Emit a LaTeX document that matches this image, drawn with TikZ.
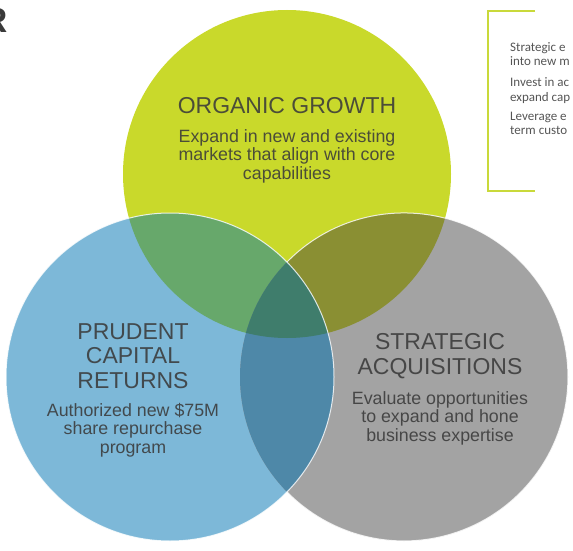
\documentclass[tikz,border=0pt]{standalone}
\usepackage{fontspec}
\setmainfont{Liberation Sans}
\newfontfamily\sidefont{Carlito}
\definecolor{ctop}{HTML}{C9D92B}
\definecolor{cleft}{HTML}{7DB8D8}
\definecolor{cright}{HTML}{A3A3A3}
\definecolor{ctl}{HTML}{67A86B}
\definecolor{ctr}{HTML}{8A8F33}
\definecolor{clr}{HTML}{4E88A8}
\definecolor{cmid}{HTML}{3F7D6C}
\definecolor{ctext}{HTML}{3A3A3A}
\definecolor{cside}{HTML}{555555}
\definecolor{cbrack}{HTML}{C9D93A}
\tikzset{
  titletext/.style={align=center, text=ctext, text opacity=0.88, inner sep=0pt,
    font=\fontsize{23}{24.5}\selectfont},
  bodytext/.style={align=center, text=ctext, text opacity=0.88, inner sep=0pt,
    font=\fontsize{17.8}{18.5}\selectfont},
  sidetext/.style={anchor=base west, inner sep=0pt, text=cside,
    font=\sidefont\fontsize{13}{14}\selectfont},
  outline/.style={draw=white, line width=1pt, opacity=0.8},
  bracketline/.style={draw=cbrack, line width=2pt}
}
\begin{document}
\begin{tikzpicture}[x=1pt,y=-1pt]
\useasboundingbox (0,0) rectangle (573,551);
\coordinate (T) at (287,174);
\coordinate (L) at (170,377);
\coordinate (R) at (404,377);
\def\rad{164}
% base circles
\fill[ctop] (T) circle (\rad);
\fill[cleft] (L) circle (\rad);
\fill[cright] (R) circle (\rad);
% overlaps
\begin{scope}
  \clip (T) circle (\rad);
  \fill[ctl] (L) circle (\rad);
  \fill[ctr] (R) circle (\rad);
\end{scope}
\begin{scope}
  \clip (L) circle (\rad);
  \fill[clr] (R) circle (\rad);
  \clip (T) circle (\rad);
  \fill[cmid] (R) circle (\rad);
\end{scope}
% thin white outlines
\coordinate (RI) at (287,262);
\draw[outline] (RI) arc[start angle=-135.5, end angle=135.5, radius=\rad];
\draw[outline] (L) circle (\rad);
% texts
\node[titletext] (og) at (287,106) {ORGANIC GROWTH};
\node[bodytext] (ogb) at (287,156) {Expand in new and existing\\markets that align with core\\capabilities};
\node[titletext] (pc) at (133,356) {PRUDENT\\CAPITAL\\RETURNS};
\node[bodytext] (pcb) at (133,430) {Authorized new \$75M\\share repurchase\\program};
\node[titletext] (sa) at (440,356) {STRATEGIC\\ACQUISITIONS};
\node[bodytext] (sab) at (440,418) {Evaluate opportunities\\to expand and hone\\business expertise};
% top-left letter
\begin{scope}
  \clip (0,0) rectangle (60,60);
  \node[anchor=base east, inner sep=0pt, text=ctext,
    font=\bfseries\fontsize{35}{35}\selectfont] (rl) at (8,33) {R};
\end{scope}
% bracket and side text
\coordinate (b1) at (535,11);
\coordinate (b2) at (488,11);
\coordinate (b3) at (488,191);
\coordinate (b4) at (535,191);
\draw[bracketline] (b1) -- (b2) -- (b3) -- (b4);
\begin{scope}
  \clip (480,0) rectangle (573,200);
  \node[sidetext] (s1) at (510,52) {Strategic e};
  \node[sidetext] (s2) at (510,66) {into new m};
  \node[sidetext] (s3) at (510,87) {Invest in ac};
  \node[sidetext] (s4) at (510,101) {expand cap};
  \node[sidetext] (s5) at (510,120) {Leverage e};
  \node[sidetext] (s6) at (510,134) {term custo};
\end{scope}
\end{tikzpicture}
\end{document}
